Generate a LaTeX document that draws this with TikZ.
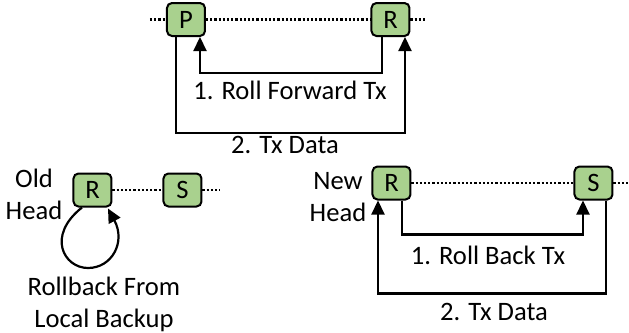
\documentclass[tikz,border=0pt]{standalone}
\usepackage{fontspec}
\setmainfont{Carlito}
\usetikzlibrary{arrows.meta,calc}
\definecolor{nodegreen}{HTML}{A9D18E}
\tikzset{
  chainnode/.style={draw=black, line width=1pt, fill=nodegreen, rounded corners=2.5pt,
    minimum width=19pt, minimum height=16.5pt, inner sep=0pt,
    font=\fontsize{13.3}{16}\selectfont},
  link/.style={line width=1.1pt, dash pattern=on 1.1pt off 1pt},
  msg/.style={line width=1.1pt, -{Triangle[length=7pt,width=6.5pt]}},
  lbl/.style={font=\fontsize{13.3}{16}\selectfont, inner sep=0pt, align=center}
}
\begin{document}
\begin{tikzpicture}[x=0.5pt,y=-0.5pt]
\useasboundingbox (0,0) rectangle (629,333);

% --- roll forward: primary P and replica R
\node[chainnode] (P) at (186,19.5) {P};
\node[chainnode] (R1) at (390.5,19.5) {R};
\coordinate (tl) at (150,19.5);
\coordinate (tr) at (427,19.5);
\draw[link] (tl) -- (P.west);
\draw[link] (P.east) -- (R1.west);
\draw[link] (R1.east) -- (tr);
\draw[msg] ($(R1.south)+(-8.5,0)$) -- ++(0,36) -| ($(P.south)+(14,0)$);
\draw[msg] ($(P.south)+(-10,0)$) -- ++(0,96) -| ($(R1.south)+(14.5,0)$);
\node[lbl] (fwd) at (290,90) {1. Roll Forward Tx};
\node[lbl] (data1) at (285,145) {2. Tx Data};

% --- old head rolls back locally
\node[chainnode] (R2) at (92.5,190) {R};
\node[chainnode] (S2) at (182.5,190) {S};
\coordinate (bl) at (220,190);
\draw[link] (R2.east) -- (S2.west);
\draw[link] (S2.east) -- (bl);
\node[lbl] (old) at (34,194) {Old\\Head};
\draw[msg] ($(R2.south)+(-10.5,0)$) .. controls (46,236) and (64,268) .. (88,268)
  .. controls (112,268) and (126,242) .. ($(R2.south)+(15.5,1)$);
\node[lbl] (local) at (104,304) {Rollback From\\Local Backup};

% --- new head: roll back with successor S
\node[chainnode] (R3) at (391.5,183) {R};
\node[chainnode] (S3) at (593.5,183) {S};
\coordinate (br) at (629,183);
\draw[link] (R3.east) -- (S3.west);
\draw[link] (S3.east) -- (br);
\node[lbl] (new) at (338,197.5) {New\\Head};
\draw[msg] ($(R3.south)+(10.5,0)$) -- ++(0,34) -| ($(S3.south)+(-10.5,0)$);
\draw[msg] ($(S3.south)+(12.5,0)$) -- ++(0,93) -| ($(R3.south)+(-13.5,0)$);
\node[lbl] (back) at (488,255) {1. Roll Back Tx};
\node[lbl] (data2) at (494,312) {2. Tx Data};
\end{tikzpicture}
\end{document}
